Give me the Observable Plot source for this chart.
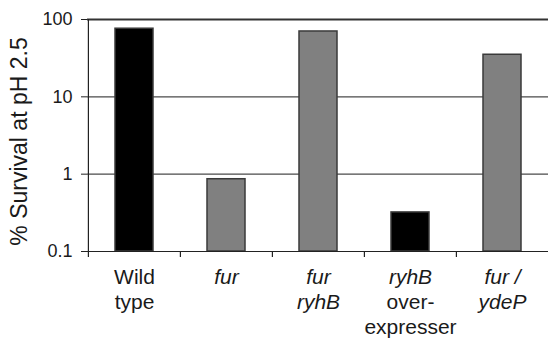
<!DOCTYPE html>
<html>
<head>
<meta charset="utf-8">
<script src="https://cdn.jsdelivr.net/npm/d3@7"></script>
<script src="https://cdn.jsdelivr.net/npm/@observablehq/plot@0.6"></script>
<style>
  html, body { margin: 0; padding: 0; background: #fff; }
  #chart svg { display: block; }
</style>
</head>
<body>
<div id="chart"></div>
<script>
// Data
const categories = ["Wild type", "fur", "fur ryhB", "ryhB over-expresser", "fur / ydeP"];
const survival = [76, 0.86, 70, 0.32, 35];
const barShade = ["black", "gray", "gray", "black", "gray"];
const labelLines = [["Wild", "type"], ["fur"], ["fur", "ryhB"], ["ryhB", "over-", "expresser"], ["fur /", "ydeP"]];
const labelItalic = [[false, false], [true], [true, true], [true, false, false], [true, true]];
const yTicks = [0.1, 1, 10, 100];
const gridValues = [1, 10];

const bars = categories.map((c, i) => ({cat: c, value: survival[i], shade: barShade[i]}));
const labels = [];
categories.forEach((c, i) => labelLines[i].forEach((t, j) => labels.push({cat: c, line: j, text: t, italic: labelItalic[i][j]})));

const W = 548, H = 338, ML = 87, MR = 0, MT = 19, MB = 87;
const step = (W - ML - MR) / categories.length;
const font = "'Liberation Sans', Arial, Helvetica, sans-serif";

const labelMarks = [];
for (let j = 0; j < 3; j++) {
  for (const it of [false, true]) {
    labelMarks.push(Plot.text(labels.filter(d => d.line === j && d.italic === it), {
      x: "cat", text: "text", frameAnchor: "bottom", lineAnchor: "middle",
      dy: 26 + j * 25, fontSize: 21, fontStyle: it ? "italic" : "normal", fill: "#1a1a1a"
    }));
  }
}

const chart = Plot.plot({
  width: W, height: H,
  marginLeft: ML, marginRight: MR, marginTop: MT, marginBottom: MB,
  style: {fontFamily: font, background: "#fff"},
  x: {domain: categories, padding: 0, axis: null},
  y: {type: "log", domain: [0.1, 100], axis: null},
  color: {domain: ["black", "gray"], range: ["#161616", "#898989"]},
  marks: [
    Plot.ruleY(gridValues, {stroke: "#4a4a4a", strokeWidth: 1.2}),
    Plot.ruleY([100], {stroke: "#333", strokeWidth: 1.8}),
    Plot.barY(bars, {x: "cat", y1: () => 0.1, y2: "value", fill: "shade", stroke: "#3a3a3a", strokeWidth: 1.5, insetLeft: 27, insetRight: 27}),
    Plot.ruleY([0.1], {stroke: "#222", strokeWidth: 1.2}),
    Plot.ruleX(categories.slice(0, 1), {x: d => d, dx: -step / 2, stroke: "#222", strokeWidth: 1.2}),
    Plot.ruleX(categories, {x: d => d, dx: -step / 2, y1: () => 0.1, y2: () => 0.1, insetBottom: -6, stroke: "#222", strokeWidth: 1.2}),
    Plot.axisY({ticks: yTicks, tickFormat: d => String(d), tickSize: 6, tickPadding: 9, fontSize: 18, stroke: "#222", fill: "#1a1a1a", label: null}),
    ...labelMarks,
    Plot.text(["% Survival at pH 2.5"], {frameAnchor: "left", textAnchor: "middle", rotate: -90, dx: -68, dy: 6, fontSize: 23, fill: "#1a1a1a", lineAnchor: "middle"})
  ]
});
document.getElementById("chart").appendChild(chart);
</script>
</body>
</html>
